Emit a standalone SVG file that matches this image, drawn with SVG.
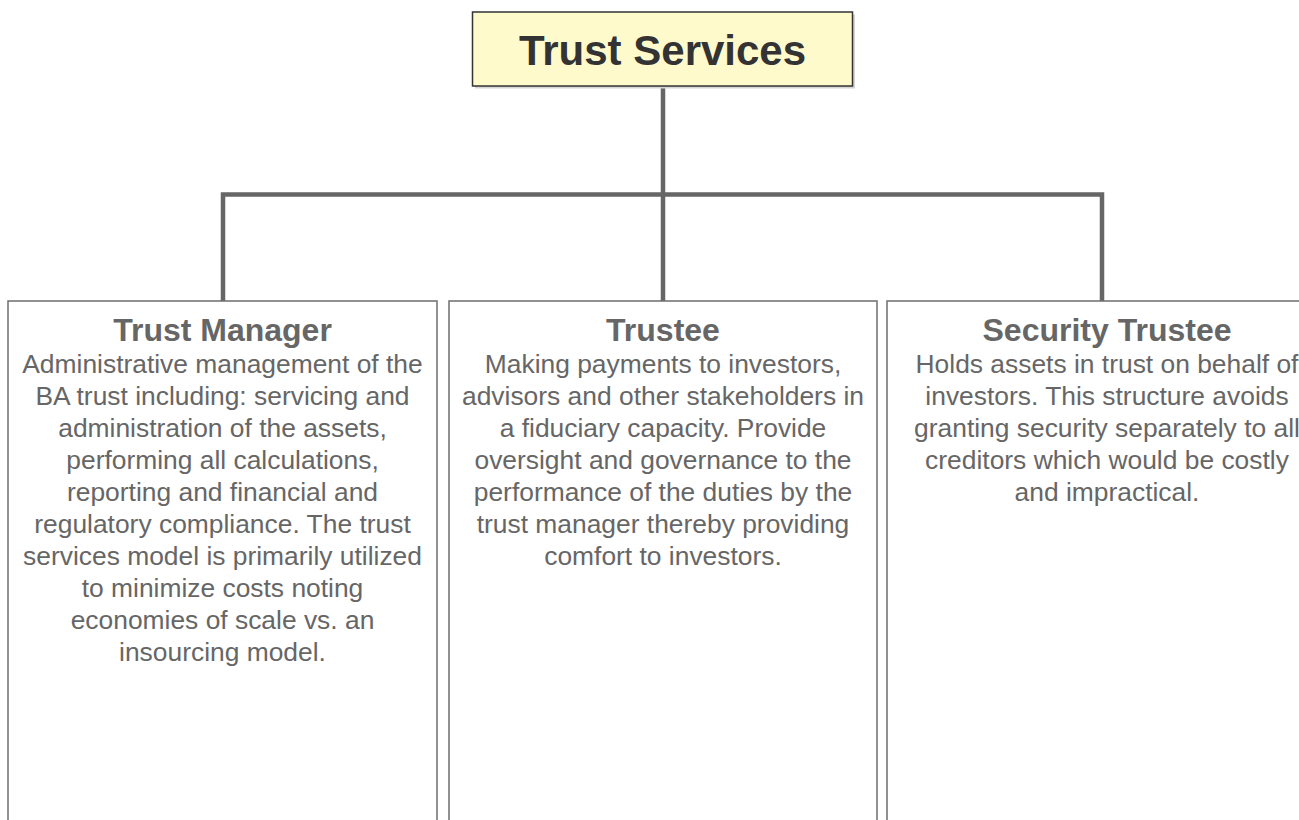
<svg xmlns="http://www.w3.org/2000/svg" width="1299" height="820" viewBox="0 0 1299 820">
<style>
.box{fill:#fff;stroke:#6e6e6e;stroke-width:1.5}
.hdr{font-family:"Liberation Sans",Arial,sans-serif;font-weight:bold;font-size:32px;fill:#666;text-anchor:middle}
.body{font-family:"Liberation Sans",Arial,sans-serif;font-size:26.4px;fill:#666;text-anchor:middle}
.conn{fill:none;stroke:#666;stroke-width:4.5;stroke-linejoin:miter}
</style>
<rect width="1299" height="820" fill="#fff"/>
<g id="connectors">
<path class="conn" d="M663,86 V301"/>
<path class="conn" d="M223,301 V194.5 H1102 V301"/>
</g>
<g id="root">
<rect x="475" y="14.5" width="380" height="74" fill="#d4d4d4"/>
<rect x="472.5" y="12" width="380" height="74" fill="#fffacc" stroke="#333" stroke-width="1.5"/>
<text x="662.5" y="65" font-family="Liberation Sans,Arial,sans-serif" font-weight="bold" font-size="42" fill="#333" text-anchor="middle">Trust Services</text>
</g>
<g id="trust-manager">
<rect class="box" x="8" y="301" width="429" height="540"/>
<text class="hdr" x="222.5" y="341">Trust Manager</text>
<text class="body" x="222.5" y="373">Administrative management of the</text>
<text class="body" x="222.5" y="405">BA trust including: servicing and</text>
<text class="body" x="222.5" y="437">administration of the assets,</text>
<text class="body" x="222.5" y="469">performing all calculations,</text>
<text class="body" x="222.5" y="501">reporting and financial and</text>
<text class="body" x="222.5" y="533">regulatory compliance. The trust</text>
<text class="body" x="222.5" y="565">services model is primarily utilized</text>
<text class="body" x="222.5" y="597">to minimize costs noting</text>
<text class="body" x="222.5" y="629">economies of scale vs. an</text>
<text class="body" x="222.5" y="661">insourcing model.</text>
</g>
<g id="trustee">
<rect class="box" x="449" y="301" width="428" height="540"/>
<text class="hdr" x="663" y="341">Trustee</text>
<text class="body" x="663" y="373">Making payments to investors,</text>
<text class="body" x="663" y="405">advisors and other stakeholders in</text>
<text class="body" x="663" y="437">a fiduciary capacity. Provide</text>
<text class="body" x="663" y="469">oversight and governance to the</text>
<text class="body" x="663" y="501">performance of the duties by the</text>
<text class="body" x="663" y="533">trust manager thereby providing</text>
<text class="body" x="663" y="565">comfort to investors.</text>
</g>
<g id="security-trustee">
<rect class="box" x="887" y="301" width="436" height="540"/>
<text class="hdr" x="1107" y="341">Security Trustee</text>
<text class="body" x="1107" y="373">Holds assets in trust on behalf of</text>
<text class="body" x="1107" y="405">investors. This structure avoids</text>
<text class="body" x="1107" y="437">granting security separately to all</text>
<text class="body" x="1107" y="469">creditors which would be costly</text>
<text class="body" x="1107" y="501">and impractical.</text>
</g>
</svg>
